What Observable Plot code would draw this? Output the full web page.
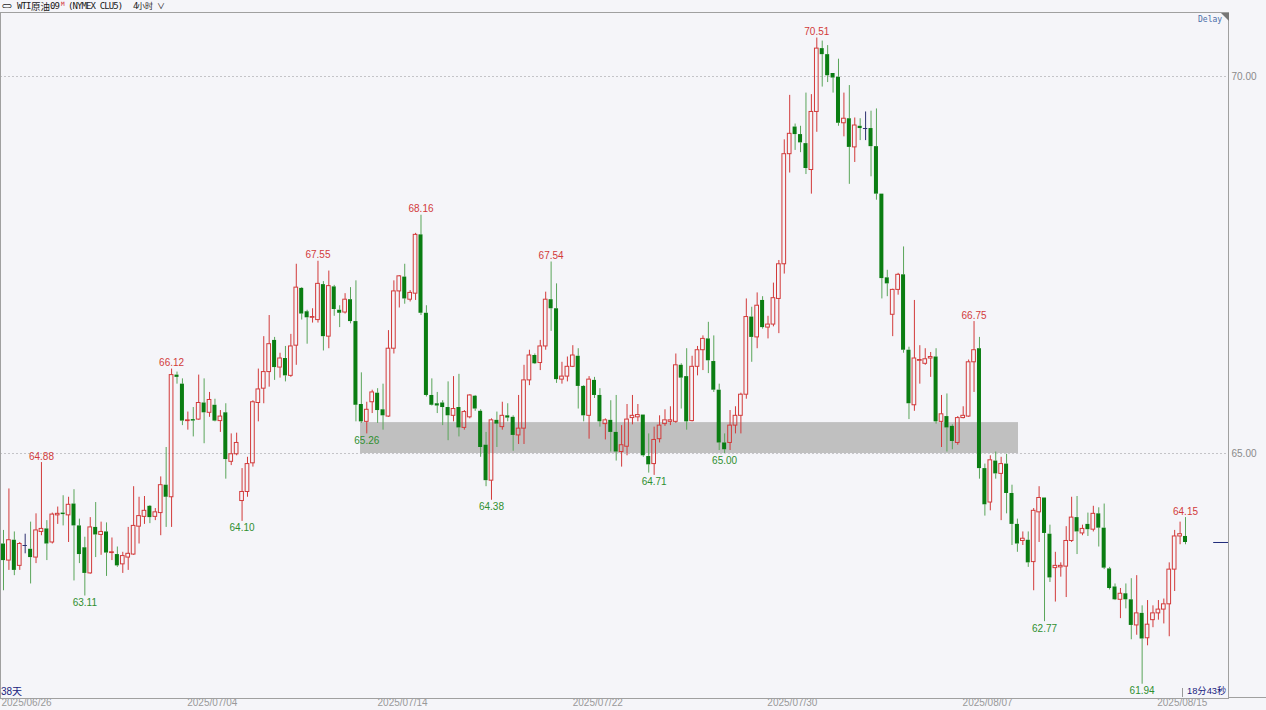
<!DOCTYPE html>
<html><head><meta charset="utf-8">
<script src="https://cdn.jsdelivr.net/npm/d3@7"></script>
<script src="https://cdn.jsdelivr.net/npm/@observablehq/plot@0.6"></script>
<style>
body{margin:0;background:#f5f5f9;}
#wrap{position:relative;width:1266px;height:710px;overflow:hidden;background:#f5f5f9;}
#chart{position:absolute;left:0;top:0;}
.h{position:absolute;top:0;height:12px;line-height:12px;font-family:"DejaVu Sans Mono","Noto Sans CJK SC",monospace;color:#1a1a1a;white-space:pre;font-size:9px;letter-spacing:-0.9px;}
.cjk{font-family:"Noto Sans CJK SC",sans-serif;letter-spacing:0;}
#delay{position:absolute;left:1198px;top:15px;font-size:8px;font-family:"DejaVu Sans Mono",monospace;color:#4a6ea8;}
#tri{position:absolute;left:1221px;top:13px;width:0;height:0;border-top:8px solid #777;border-left:8px solid transparent;}
#days{position:absolute;left:1px;top:683px;font-size:10px;font-family:"Liberation Sans","Noto Sans CJK SC",sans-serif;color:#1a237e;}
#timer{position:absolute;left:1187px;top:683px;font-size:9.3px;font-family:"Liberation Sans","Noto Sans CJK SC",sans-serif;color:#1a237e;}
#timertick{position:absolute;left:1182px;top:688px;width:1px;height:9px;background:#999;}
#bline{position:absolute;left:1228px;top:697px;width:38px;height:1px;background:#a0a0a0;}
</style></head>
<body><div id="wrap"><div id="chart"></div>
<div class="h" style="left:2px;">⊂⊃</div>
<div class="h" style="left:17px;">WTI</div>
<div class="h cjk" style="left:31px;font-size:9.5px;">原油</div>
<div class="h" style="left:50px;">09</div>
<div class="h" style="left:61px;top:-2px;font-size:6px;letter-spacing:0;color:#d03030;">M</div>
<div class="h" style="left:68px;">(NYMEX CLU5)</div>
<div class="h" style="left:133px;">4</div>
<div class="h cjk" style="left:137px;font-size:8px;">小时</div>
<div class="h cjk" style="left:157px;font-size:8px;">∨</div>
<div id="delay">Delay</div><div id="tri"></div>
<div id="days">38天</div><div id="timertick"></div><div id="timer">18分43秒</div><div id="bline"></div>
</div>
<script>
const opens=[63.80,63.58,63.85,63.51,63.78,63.73,63.62,63.96,64.00,63.82,
64.18,64.21,64.18,64.33,64.04,63.75,63.41,64.02,63.92,63.96,
63.68,63.66,63.53,63.62,63.66,64.03,64.16,64.30,64.16,64.21,
64.58,64.42,66.04,65.92,65.43,65.45,65.45,65.67,65.54,65.64,
65.43,65.54,64.89,64.99,64.37,64.49,64.87,65.67,65.86,66.08,
66.50,66.14,66.26,66.03,66.43,67.19,66.88,66.80,66.77,67.24,
66.55,67.21,66.90,66.87,67.04,66.75,65.65,65.42,65.68,65.80,
65.58,65.49,66.39,67.15,67.34,67.04,67.12,67.90,66.86,65.77,
65.66,65.67,65.61,65.50,65.61,65.34,65.48,65.76,65.56,65.11,
64.64,65.44,65.35,65.50,65.48,65.24,65.33,65.97,66.30,66.20,
66.42,67.04,66.92,65.98,66.02,66.15,66.29,65.89,65.50,65.97,
65.77,65.39,65.44,65.28,65.02,65.09,65.47,65.48,65.51,64.96,
64.86,65.19,65.39,65.42,65.42,66.17,66.02,65.43,66.15,66.37,
66.52,66.22,65.84,65.14,65.14,65.37,65.50,65.78,66.81,66.54,
67.03,66.67,66.71,67.05,67.51,68.97,69.33,69.23,69.11,68.76,
69.53,70.37,70.29,70.04,69.99,69.38,69.44,69.06,69.34,69.31,
69.31,69.07,68.44,67.33,66.84,67.17,67.37,66.37,65.64,66.23,
66.19,66.26,66.28,65.42,65.49,65.36,65.14,65.47,65.49,66.21,
66.39,64.80,64.35,64.90,64.73,64.86,64.47,64.06,63.84,63.85,
63.56,64.22,64.41,63.93,63.48,63.49,63.50,63.84,64.15,63.94,
64.06,63.99,64.20,64.01,63.47,63.23,63.06,63.14,63.06,62.72,
62.88,62.55,62.79,62.88,62.93,63.00,63.46,63.90,63.90];
const highs=[63.98,64.53,63.96,63.82,63.93,64.09,64.20,64.88,64.11,64.21,
64.29,64.44,64.42,64.52,64.13,63.89,64.15,64.35,64.09,64.08,
63.88,63.76,63.69,64.02,64.56,64.42,64.43,64.31,64.27,64.69,
65.08,66.12,66.08,65.99,65.55,65.61,66.04,65.99,65.81,65.72,
65.57,65.66,65.26,65.27,64.80,64.95,65.70,66.12,66.55,66.83,
66.54,66.33,66.42,66.58,67.51,67.20,66.90,66.92,67.55,67.28,
67.42,67.23,66.96,67.12,67.20,67.29,66.07,65.68,65.84,65.86,
65.92,66.63,67.29,67.36,67.51,67.16,67.92,68.16,66.96,65.99,
65.81,65.70,65.95,66.02,66.05,65.57,65.78,65.77,65.58,65.28,
65.46,65.55,65.68,65.66,65.50,65.77,66.17,66.37,66.32,66.50,
67.14,67.54,67.25,66.21,66.28,66.43,66.39,65.90,66.02,66.01,
65.86,65.46,65.70,65.77,65.37,65.65,65.77,65.65,65.51,65.26,
65.35,65.50,65.58,65.62,66.32,66.19,66.39,66.29,66.42,66.56,
66.74,66.56,65.92,65.26,65.57,65.62,65.80,67.05,66.94,67.13,
67.08,66.82,67.26,67.56,69.16,69.75,69.37,69.34,69.78,69.76,
70.51,70.47,70.41,70.04,70.23,69.78,69.88,69.45,69.44,69.53,
69.54,69.57,68.44,67.43,67.18,67.39,67.74,66.41,67.03,66.43,
66.39,66.34,66.39,65.77,65.79,65.38,65.49,65.62,66.24,66.75,
66.54,64.86,64.97,65.02,64.95,64.99,64.58,64.13,63.96,63.96,
64.27,64.56,64.41,64.05,63.69,63.55,64.03,64.42,64.43,64.05,
64.21,64.30,64.28,64.33,63.49,63.27,63.21,63.27,63.34,63.38,
62.98,63.05,62.98,63.05,63.07,63.55,63.98,64.09,64.15];
const lows=[63.18,63.45,63.38,63.45,63.67,63.27,63.54,63.91,63.58,63.80,
64.06,64.04,63.82,63.31,63.54,63.11,63.40,63.62,63.65,63.37,
63.58,63.49,63.41,63.45,63.65,63.80,64.06,64.07,64.11,63.91,
64.02,64.02,65.92,65.37,65.31,65.22,65.44,65.13,65.48,65.42,
65.28,64.66,64.84,64.97,64.10,64.42,64.82,65.42,65.66,65.88,
65.97,66.00,65.95,66.01,66.17,66.77,66.45,66.73,66.73,66.36,
66.39,66.82,66.67,66.85,66.72,65.42,65.40,65.26,65.53,65.40,
65.31,65.48,66.32,66.93,66.98,67.01,67.03,66.83,65.75,65.63,
65.53,65.37,65.17,65.42,65.22,65.31,65.46,65.56,64.95,64.56,
64.38,65.08,65.31,65.42,65.03,65.12,65.12,65.90,66.18,66.10,
66.37,66.62,65.93,65.92,65.95,66.14,65.59,65.42,65.19,65.73,
65.35,65.18,65.02,64.90,64.82,64.97,65.38,65.42,64.95,64.74,
64.71,65.14,65.36,65.37,65.40,65.59,65.31,65.42,66.03,66.10,
66.06,65.81,65.04,65.00,65.04,65.26,65.26,65.72,66.21,66.39,
66.65,66.52,66.68,66.59,67.38,68.72,69.02,68.99,68.70,68.44,
69.26,69.86,69.92,69.78,69.34,69.20,68.57,68.86,69.15,69.15,
68.67,68.36,67.05,67.08,66.55,67.10,66.33,65.45,65.56,65.92,
66.17,66.01,65.39,65.08,65.02,65.05,65.11,65.46,65.48,65.81,
64.66,64.17,64.24,64.66,64.11,64.20,63.78,63.69,63.78,63.49,
63.18,63.82,62.77,63.29,63.03,63.36,63.09,63.82,63.66,63.91,
63.90,63.96,63.76,63.46,63.19,63.05,62.81,62.94,62.53,62.59,
61.94,62.45,62.69,62.79,62.74,62.57,63.17,63.79,63.79];
const closes=[63.58,63.85,63.45,63.80,63.78,63.62,63.98,64.00,63.80,64.19,
64.20,64.19,64.32,64.04,63.66,63.41,64.02,63.92,63.96,63.68,
63.69,63.51,63.64,63.67,64.04,64.17,64.24,64.15,64.22,64.58,
64.42,66.04,66.01,65.43,65.44,65.43,65.67,65.54,65.71,65.43,
65.49,64.92,64.99,65.14,64.49,64.86,65.68,65.85,66.08,66.45,
66.14,66.26,66.03,66.42,67.20,66.85,66.80,66.81,67.25,66.55,
67.22,66.91,66.86,67.04,66.75,65.64,65.42,65.58,65.81,65.57,
65.50,66.39,67.15,67.35,67.05,67.13,67.90,66.86,65.77,65.64,
65.63,65.61,65.50,65.59,65.34,65.55,65.77,65.59,65.08,64.64,
65.44,65.39,65.50,65.47,65.24,65.33,65.97,66.30,66.19,66.42,
67.04,66.92,65.98,66.02,66.15,66.30,65.89,65.50,65.98,65.77,
65.42,65.44,65.28,65.02,65.11,65.45,65.50,65.51,64.97,64.85,
65.18,65.37,65.44,65.44,66.17,66.00,65.42,66.15,66.37,66.52,
66.23,65.84,65.14,65.05,65.37,65.50,65.78,66.81,66.54,66.96,
66.67,66.71,67.06,67.51,68.97,69.24,69.23,69.12,68.78,69.53,
70.37,70.29,70.01,69.98,69.38,69.44,69.06,69.35,69.31,69.31,
69.07,68.44,67.32,67.25,67.17,67.37,66.37,65.66,66.26,66.24,
66.25,66.28,65.42,65.52,65.34,65.16,65.47,65.50,66.21,66.37,
64.80,64.32,64.91,64.73,64.86,64.47,64.06,63.80,63.87,63.55,
64.24,64.41,63.94,63.35,63.51,63.51,63.84,64.15,63.96,64.00,
63.99,64.20,64.01,63.48,63.21,63.06,63.14,63.06,62.72,62.88,
62.54,62.73,62.88,62.93,63.00,63.46,63.90,63.93,63.82];

// date tick labels (position = candle index)
const tickIndex=[1,39.5,74.6,110.6,146.5,182.5,218.4];
const tickLabels=["2025/06/26","2025/07/04","2025/07/14","2025/07/22","2025/07/30","2025/08/07","2025/08/15"];
// marked highs / lows (candle index, 1-based)
const highMarkIdx=[8,32,59,78,102,151,180,219];
const lowMarkIdx=[16,45,68,91,121,134,193,211];
// support zone (candle index range, price range)
const zoneIdx=[66.85,188.2];
const zonePrice=[65.00,65.41];
const gridPrices=[65,70];

const RED="#d23a3a", GREEN_BODY="#0a7d12", GREEN_WICK="#5aa55a", FLAT="#2b2f6e";
const n=opens.length;
const data=opens.map((o,k)=>({i:k+1,o,h:highs[k],l:lows[k],c:closes[k]}));
data.forEach(d=>{d.top=Math.max(d.o,d.c);d.bot=Math.min(d.o,d.c);
  d.kind=Math.abs(d.c-d.o)<0.005?"flat":(d.c>d.o?"up":"down");});
const up=data.filter(d=>d.kind==="up"), down=data.filter(d=>d.kind==="down"), flat=data.filter(d=>d.kind==="flat");
const wickColor=d=>d.kind==="down"?GREEN_WICK:(d.kind==="flat"?FLAT:RED);
const xDomain=[0.447,226.93];
const zoneRows=[{x1:zoneIdx[0],x2:zoneIdx[1],y1:zonePrice[0],y2:zonePrice[1]}];
const ticks=tickIndex.map((i,k)=>({i,label:tickLabels[k]}));
const hiRows=highMarkIdx.map(i=>data[i-1]);
const loRows=lowMarkIdx.map(i=>data[i-1]);
const last=data[n-1];

const chart=Plot.plot({
  width:1266,height:710,marginLeft:0,marginRight:38,marginTop:12,marginBottom:12,
  style:{background:"transparent",fontFamily:"'Liberation Sans',Arial,sans-serif",fontSize:"10px"},
  x:{type:"linear",domain:xDomain,axis:null},
  y:{type:"linear",domain:[61.751,70.849],axis:null},
  marks:[
    Plot.rect(zoneRows,{x1:"x1",x2:"x2",y1:"y1",y2:"y2",fill:"#c0c0c0"}),
    Plot.ruleY(gridPrices,{stroke:"#c4c4c8",strokeDasharray:"2,2"}),
    Plot.ruleX(data,{x:"i",y1:"h",y2:"top",stroke:wickColor,strokeWidth:1}),
    Plot.ruleX(data,{x:"i",y1:"bot",y2:"l",stroke:wickColor,strokeWidth:1}),
    Plot.rect(down,{x1:d=>d.i-0.37,x2:d=>d.i+0.37,y1:"bot",y2:"top",fill:GREEN_BODY}),
    Plot.rect(up,{x1:d=>d.i-0.34,x2:d=>d.i+0.34,y1:"bot",y2:"top",fill:"none",stroke:RED,strokeWidth:1}),
    Plot.ruleY(flat,{y:"o",x1:d=>d.i-0.4,x2:d=>d.i+0.4,stroke:FLAT}),
    Plot.text(hiRows,{x:"i",y:"h",text:d=>d.h.toFixed(2),lineAnchor:"bottom",dy:-3,fill:"#d23a3a"}),
    Plot.text(loRows,{x:"i",y:"l",text:d=>d.l.toFixed(2),lineAnchor:"top",dy:3,fill:"#2f8f2f"}),
    Plot.text(gridPrices,{y:d=>d,text:d=>d.toFixed(2),frameAnchor:"right",dx:3,textAnchor:"start",fill:"#8a8a8a"}),
    Plot.text(ticks.slice(0,1),{x:"i",text:"label",frameAnchor:"bottom",dy:7,textAnchor:"start",dx:-2,fill:"#999"}),
    Plot.text(ticks.slice(1),{x:"i",text:"label",frameAnchor:"bottom",dy:7,fill:"#999"}),
    Plot.ruleY([last],{y:"c",x1:d=>d.i+5.2,x2:()=>xDomain[1],stroke:"#1f2a7a"}),
    Plot.frame({stroke:"#a0a0a0"})
  ]
});
document.getElementById("chart").appendChild(chart);
</script></body></html>
